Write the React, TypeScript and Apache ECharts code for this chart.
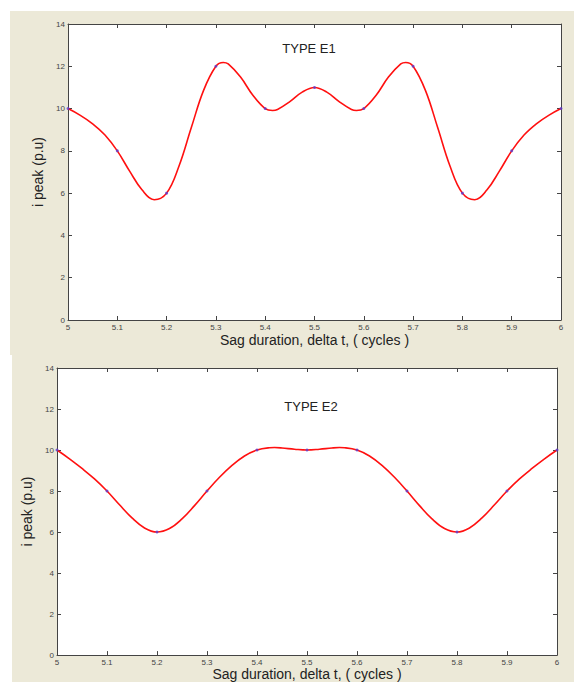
import React, { useEffect, useRef } from "react";
import * as echarts from "echarts";

// Measured points (x = sag duration in cycles, y = i peak p.u.)
const sampleT = [5, 5.1, 5.2, 5.3, 5.4, 5.5, 5.6, 5.7, 5.8, 5.9, 6];
const e1Values = [10, 8, 6, 12, 10, 11, 10, 12, 6, 8, 10];
const e2Values = [10, 8, 6, 8, 10, 10, 10, 8, 6, 8, 10];

// Fitted curve
const e1CurveT = [
  5, 5.025, 5.05, 5.075, 5.1, 5.125, 5.15, 5.175, 5.2, 5.225, 5.25, 5.275, 5.3, 5.315, 5.325, 5.35, 5.375,
  5.4, 5.415, 5.425, 5.45, 5.475, 5.5, 5.525, 5.55, 5.575, 5.585, 5.6, 5.625, 5.65, 5.675, 5.685, 5.7,
  5.725, 5.75, 5.775, 5.8, 5.825, 5.85, 5.875, 5.9, 5.925, 5.95, 5.975, 6,
];
const e1CurveV = [
  10, 9.68, 9.28, 8.75, 8, 7.04, 6.16, 5.69, 6, 7.27, 9.09, 10.86, 12, 12.18, 12.11, 11.49, 10.63,
  10, 9.91, 9.96, 10.33, 10.78, 11, 10.78, 10.33, 9.96, 9.91, 10, 10.63, 11.49, 12.11, 12.18, 12,
  10.86, 9.09, 7.27, 6, 5.69, 6.16, 7.04, 8, 8.75, 9.28, 9.68, 10,
];
const e2CurveT = [
  5, 5.025, 5.05, 5.075, 5.1, 5.125, 5.15, 5.175, 5.2, 5.225, 5.25, 5.275, 5.3, 5.325, 5.35, 5.375,
  5.4, 5.425, 5.435, 5.45, 5.475, 5.5, 5.525, 5.55, 5.565, 5.575, 5.6, 5.625, 5.65, 5.675, 5.7,
  5.725, 5.75, 5.775, 5.8, 5.825, 5.85, 5.875, 5.9, 5.925, 5.95, 5.975, 6,
];
const e2CurveV = [
  10, 9.57, 9.1, 8.59, 8, 7.33, 6.69, 6.2, 6, 6.17, 6.64, 7.29, 8, 8.67, 9.25, 9.71,
  10, 10.11, 10.12, 10.1, 10.04, 10, 10.04, 10.1, 10.12, 10.11, 10, 9.71, 9.25, 8.67, 8,
  7.29, 6.64, 6.17, 6, 6.2, 6.69, 7.33, 8, 8.59, 9.1, 9.57, 10,
];

const xMin = 5;
const xMax = 6;
const xStep = 0.1;
const yMin = 0;
const yMax = 14;
const yStep = 2;

const titles = ["TYPE E1", "TYPE E2"];
const xTitle = "Sag duration, delta t, ( cycles )";
const yTitle = "i peak (p.u)";

const FONT = "Liberation Sans, Arial, sans-serif";
const AXIS_COLOR = "#444";

function zip(a: number[], b: number[]) {
  return a.map((v, i) => [v, b[i]]);
}

export default function App() {
  const ref = useRef<HTMLDivElement>(null);

  useEffect(() => {
    if (!ref.current) return;
    const chart = echarts.init(ref.current, null, { renderer: "svg" });

    const grids = [
      { left: 68, top: 24, width: 493, height: 296 },
      { left: 57, top: 368, width: 500, height: 289 },
    ];
    const xNameGaps = [13, 11];
    const yNameGaps = [14.5, 15];

    const xAxes: any[] = [];
    const yAxes: any[] = [];
    grids.forEach((_, g) => {
      const tick = { show: true, inside: true, length: 4, lineStyle: { color: AXIS_COLOR, width: 1 } };
      const line = { show: true, onZero: false, lineStyle: { color: AXIS_COLOR, width: 1 } };
      xAxes.push({
        gridIndex: g,
        type: "value",
        position: "bottom",
        min: xMin,
        max: xMax,
        interval: xStep,
        axisLine: line,
        axisTick: tick,
        splitLine: { show: false },
        axisLabel: {
          fontSize: 8,
          color: AXIS_COLOR,
          margin: 3,
          fontFamily: FONT,
          formatter: (v: number) => String(parseFloat(v.toFixed(1))),
        },
        name: xTitle,
        nameLocation: "middle",
        nameGap: xNameGaps[g],
        nameTextStyle: { fontSize: 14, color: "#222", fontFamily: FONT },
      });
      xAxes.push({
        gridIndex: g,
        type: "value",
        position: "top",
        min: xMin,
        max: xMax,
        interval: xStep,
        axisLine: line,
        axisTick: tick,
        splitLine: { show: false },
        axisLabel: { show: false },
      });
      yAxes.push({
        gridIndex: g,
        type: "value",
        position: "left",
        min: yMin,
        max: yMax,
        interval: yStep,
        axisLine: line,
        axisTick: tick,
        splitLine: { show: false },
        axisLabel: { fontSize: 8, color: AXIS_COLOR, margin: 3, fontFamily: FONT },
        name: yTitle,
        nameLocation: "middle",
        nameGap: yNameGaps[g],
        nameTextStyle: { fontSize: 14, color: "#222", fontFamily: FONT },
      });
      yAxes.push({
        gridIndex: g,
        type: "value",
        position: "right",
        min: yMin,
        max: yMax,
        interval: yStep,
        axisLine: line,
        axisTick: tick,
        splitLine: { show: false },
        axisLabel: { show: false },
      });
    });

    const curves = [zip(e1CurveT, e1CurveV), zip(e2CurveT, e2CurveV)];
    const samples = [zip(sampleT, e1Values), zip(sampleT, e2Values)];

    const series: any[] = [];
    [0, 1].forEach((g) => {
      series.push({
        type: "line",
        name: titles[g],
        xAxisIndex: g * 2,
        yAxisIndex: g * 2,
        data: curves[g],
        smooth: 0.4,
        showSymbol: false,
        symbol: "none",
        lineStyle: { color: "#ff1010", width: 1.6 },
        z: 3,
      });
      series.push({
        type: "scatter",
        name: titles[g] + " points",
        xAxisIndex: g * 2,
        yAxisIndex: g * 2,
        data: samples[g],
        symbol: "circle",
        symbolSize: 3,
        itemStyle: { color: "#5a3cd0" },
        z: 4,
      });
    });

    chart.setOption({
      animation: false,
      grid: grids.map((g) => ({
        ...g,
        show: true,
        backgroundColor: "#ffffff",
        borderWidth: 0,
      })),
      xAxis: xAxes,
      yAxis: yAxes,
      series,
      graphic: [
        { type: "rect", z: -100, shape: { x: 10, y: 11, width: 564, height: 344 }, style: { fill: "#ECE9D8" } },
        { type: "rect", z: -100, shape: { x: 12, y: 355, width: 562, height: 327 }, style: { fill: "#ECE9D8" } },
        {
          type: "text",
          x: 309,
          y: 48,
          z: 10,
          style: { text: titles[0], fontSize: 13, fill: "#222", fontFamily: FONT, align: "center", verticalAlign: "middle" },
        },
        {
          type: "text",
          x: 311,
          y: 406,
          z: 10,
          style: { text: titles[1], fontSize: 13, fill: "#222", fontFamily: FONT, align: "center", verticalAlign: "middle" },
        },
      ],
    });

    return () => chart.dispose();
  }, []);

  return (
    <div
      ref={ref}
      style={{ position: "absolute", left: 0, top: 0, width: 574, height: 682, background: "#ffffff" }}
    />
  );
}
